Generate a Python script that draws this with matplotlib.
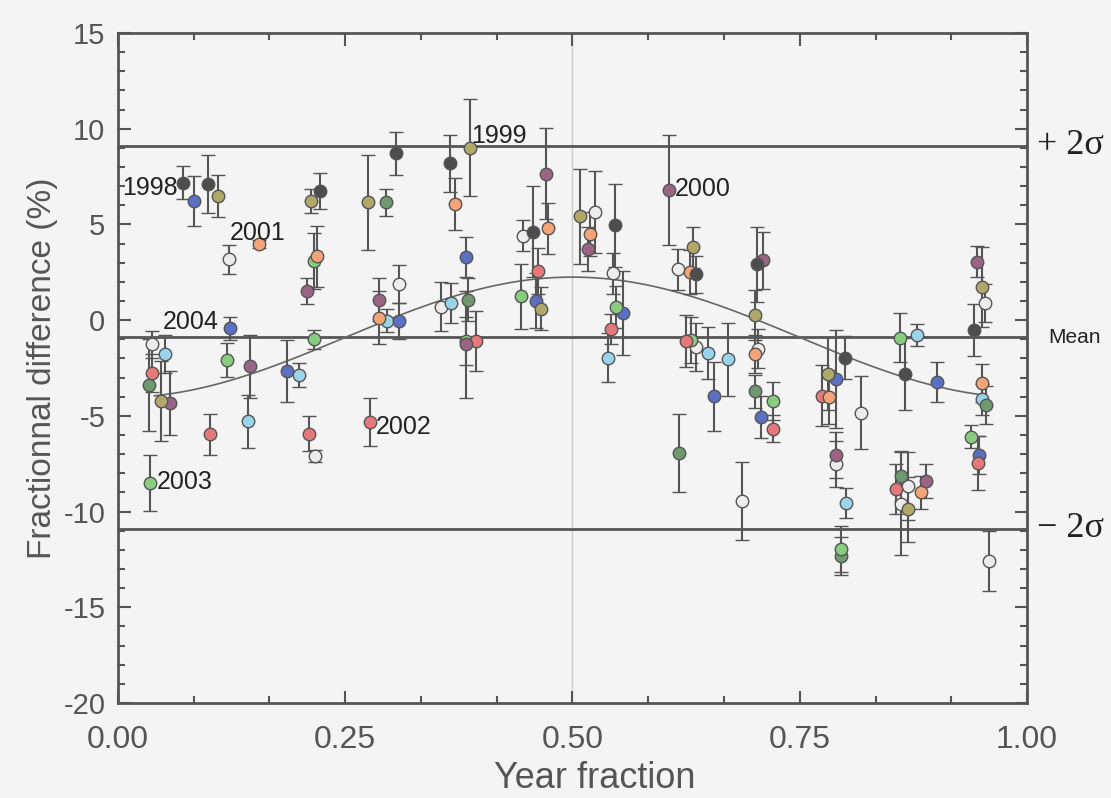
import numpy as np
import matplotlib
matplotlib.use("Agg")
import matplotlib.pyplot as plt
from matplotlib.ticker import MultipleLocator, FixedLocator

plt.rcParams["axes.unicode_minus"] = False

# fitted seasonal curve and statistics
mean_level = -0.9
sigma = 5.0
fit_amplitude = 3.15
fit_range = [0.04, 0.95]

# points per series: (year fraction, fractional difference %, error)
dkgray_x = [0.072, 0.099, 0.222, 0.3055, 0.365, 0.457, 0.547, 0.636, 0.7026, 0.7998, 0.8658, 0.942]
dkgray_y = [7.19, 7.1, 6.76, 8.71, 8.19, 4.62, 4.95, 2.39, 2.91, -1.95, -2.82, -0.52]
dkgray_e = [0.88, 1.52, 0.95, 1.11, 1.48, 2.37, 2.15, 0.98, 1.96, 1.1, 1.88, 1.35]

olive_x = [0.047, 0.110, 0.212, 0.275, 0.387, 0.465, 0.508, 0.633, 0.7008, 0.7814, 0.8687, 0.950]
olive_y = [-4.23, 6.48, 6.23, 6.15, 9.0, 0.61, 5.43, 3.8, 0.26, -2.79, -9.87, 1.74]
olive_e = [2.1, 1.08, 0.61, 2.46, 2.53, 1.1, 2.48, 1.08, 1.3, 1.92, 1.7, 2.1]

mauve_x = [0.057, 0.145, 0.2076, 0.287, 0.3828, 0.4705, 0.5174, 0.6065, 0.7092, 0.7899, 0.8885, 0.9446]
mauve_y = [-4.32, -2.4, 1.53, 1.08, -1.25, 7.66, 3.71, 6.79, 3.13, -7.02, -8.39, 3.05]
mauve_e = [1.66, 1.65, 0.69, 1.1, 2.8, 2.39, 1.15, 2.87, 1.49, 1.2, 0.9, 0.8]

orange_x = [0.155, 0.2186, 0.287, 0.3707, 0.4734, 0.5193, 0.629, 0.7008, 0.782, 0.8834, 0.9508]
orange_y = [3.97, 3.34, 0.14, 6.06, 4.79, 4.48, 2.52, -1.78, -4.0, -9.0, -3.27]
orange_e = [0.2, 1.6, 1.4, 1.37, 1.31, 1.15, 1.13, 1.0, 1.4, 0.87, 0.98]

red_x = [0.037, 0.101, 0.2105, 0.2772, 0.3938, 0.4624, 0.542, 0.6249, 0.7209, 0.775, 0.8559, 0.9465]
red_y = [-2.75, -5.96, -5.92, -5.31, -1.1, 2.56, -0.47, -1.08, -5.66, -3.95, -8.83, -7.45]
red_e = [1.0, 1.06, 0.91, 1.26, 1.58, 1.2, 0.8, 1.35, 0.7, 1.6, 1.3, 1.4]

green_x = [0.0352, 0.1196, 0.2156, 0.2156, 0.3828, 0.443, 0.5475, 0.6304, 0.7209, 0.7954, 0.8603, 0.938]
green_y = [-8.5, -2.09, 3.08, -1.0, -1.1, 1.25, 0.7, -1.04, -4.22, -11.93, -0.91, -6.1]
green_e = [1.48, 0.9, 1.46, 0.5, 1.25, 1.7, 1.1, 1.2, 0.99, 1.2, 1.29, 0.6]

blue_x = [0.0836, 0.1232, 0.1856, 0.309, 0.3825, 0.4598, 0.5552, 0.6557, 0.707, 0.7895, 0.9013, 0.947]
blue_y = [6.22, -0.43, -2.66, -0.04, 3.31, 1.01, 0.38, -3.97, -5.05, -3.05, -3.22, -7.05]
blue_e = [1.32, 0.6, 1.61, 0.95, 1.05, 1.43, 2.2, 1.8, 1.08, 2.56, 1.05, 1.0]

ltblue_x = [0.0517, 0.1427, 0.1995, 0.2955, 0.3663, 0.5394, 0.6494, 0.6714, 0.8005, 0.8786, 0.950]
ltblue_y = [-1.78, -5.28, -2.87, -0.04, 0.9, -1.95, -1.71, -2.05, -9.54, -0.78, -4.14]
ltblue_e = [1.0, 1.39, 0.63, 0.6, 1.05, 1.3, 1.37, 1.92, 0.77, 0.56, 0.8]

white_x = [0.037, 0.122, 0.217, 0.309, 0.3553, 0.4452, 0.5248, 0.5442, 0.6157, 0.6355,
           0.6861, 0.7044, 0.7899, 0.817, 0.8687, 0.861, 0.9538, 0.9582]
white_y = [-1.27, 3.17, -7.09, 1.88, 0.7, 4.4, 5.66, 2.44, 2.66, -1.39,
           -9.44, -1.48, -7.49, -4.84, -8.66, -9.58, 0.91, -12.57]
white_e = [0.7, 0.77, 0.3, 1.0, 1.28, 0.81, 2.13, 1.08, 1.07, 1.25,
           2.05, 1.0, 1.2, 1.9, 1.8, 2.7, 1.0, 1.57]

dkgreen_x = [0.0345, 0.295, 0.3854, 0.6172, 0.701, 0.7954, 0.861, 0.9546]
dkgreen_y = [-3.4, 6.15, 1.08, -6.93, -3.71, -12.33, -8.15, -4.44]
dkgreen_e = [2.4, 0.69, 1.1, 2.03, 0.87, 1.0, 1.3, 1.0]

# year labels: (text, x, y)
year_labels = ["1998", "1999", "2000", "2001", "2002", "2003", "2004"]
year_label_x = [0.0655, 0.389, 0.613, 0.1225, 0.2838, 0.0426, 0.049]
year_label_y = [6.9, 9.6, 6.83, 4.55, -5.57, -8.45, -0.09]
year_label_ha = ["right", "left", "left", "left", "left", "left", "left"]

series = [
    (white_x, white_y, white_e, "#ececec"),
    (ltblue_x, ltblue_y, ltblue_e, "#9ad4ec"),
    (dkgreen_x, dkgreen_y, dkgreen_e, "#6f9a6f"),
    (blue_x, blue_y, blue_e, "#5b6fc4"),
    (green_x, green_y, green_e, "#88cc80"),
    (red_x, red_y, red_e, "#e6787a"),
    (orange_x, orange_y, orange_e, "#f4a477"),
    (mauve_x, mauve_y, mauve_e, "#9c6484"),
    (olive_x, olive_y, olive_e, "#b0a868"),
    (dkgray_x, dkgray_y, dkgray_e, "#4d4d4d"),
]

ink = "#555555"
bg = "#f4f4f4"
sans = ["Liberation Sans", "DejaVu Sans"]
serif = ["Liberation Serif", "DejaVu Serif"]

fig = plt.figure(figsize=(11.11, 7.98), dpi=100, facecolor=bg)
ax = fig.add_axes([0.1062, 0.119, 0.8182, 0.8396])
ax.set_facecolor(bg)

ax.set_xlim(0, 1)
ax.set_ylim(-20, 15)

# reference lines
ax.axvline(0.5, color="#cccccc", lw=1, zorder=1)
for level in [mean_level + 2 * sigma, mean_level, mean_level - 2 * sigma]:
    ax.axhline(level, color=ink, lw=2, zorder=1)

# seasonal fit
xf = np.linspace(fit_range[0], fit_range[1], 200)
ax.plot(xf, mean_level - fit_amplitude * np.cos(2 * np.pi * xf), color="#666666", lw=1.2, zorder=2)

for xs, ys, es, col in series:
    ax.errorbar(xs, ys, yerr=es, fmt="o", ms=9, mfc=col, mec=ink, mew=1,
                ecolor=ink, elinewidth=1.5, capsize=5, capthick=1.5, zorder=3)

for t, tx, ty, ha in zip(year_labels, year_label_x, year_label_y, year_label_ha):
    ax.text(tx, ty, t, ha=ha, va="center", fontsize=18, color="#222222",
            family=sans, zorder=4)

# right-hand labels
ytr = ax.get_yaxis_transform()
ax.text(1.011, mean_level + 2 * sigma, "+ 2σ", transform=ytr,
        ha="left", va="center", fontsize=26, color="#222222", family=serif)
ax.text(1.011, mean_level - 2 * sigma, "− 2σ", transform=ytr,
        ha="left", va="center", fontsize=26, color="#222222", family=serif)
ax.text(1.023, mean_level, "Mean", transform=ytr,
        ha="left", va="center", fontsize=15, color="#222222", family=sans)

# ticks
ax.xaxis.set_major_locator(FixedLocator([0, 0.25, 0.5, 0.75, 1.0]))
ax.xaxis.set_minor_locator(MultipleLocator(1 / 12))
ax.yaxis.set_major_locator(MultipleLocator(5))
ax.yaxis.set_minor_locator(MultipleLocator(1))
ax.tick_params(which="both", direction="in", top=True, right=True, color=ink, width=1.5)
ax.tick_params(which="major", length=9)
ax.tick_params(which="minor", length=5)
ax.tick_params(axis="y", labelsize=21, labelcolor=ink, pad=9)
ax.tick_params(axis="x", labelsize=23, labelcolor=ink, pad=16)
ax.set_xticklabels(["0.00", "0.25", "0.50", "0.75", "1.00"])
for lab in ax.get_xticklabels() + ax.get_yticklabels():
    lab.set_family(sans)

for sp in ax.spines.values():
    sp.set_color(ink)
    sp.set_linewidth(2)

ax.set_xlabel("Year fraction", fontsize=26, color=ink, family=sans, va="bottom")
ax.xaxis.set_label_coords(0.524, -0.139)
ax.set_ylabel("Fractionnal difference (%)", fontsize=24, color=ink, family=sans, labelpad=4)

fig.savefig("out.png", dpi=100, facecolor=bg)
